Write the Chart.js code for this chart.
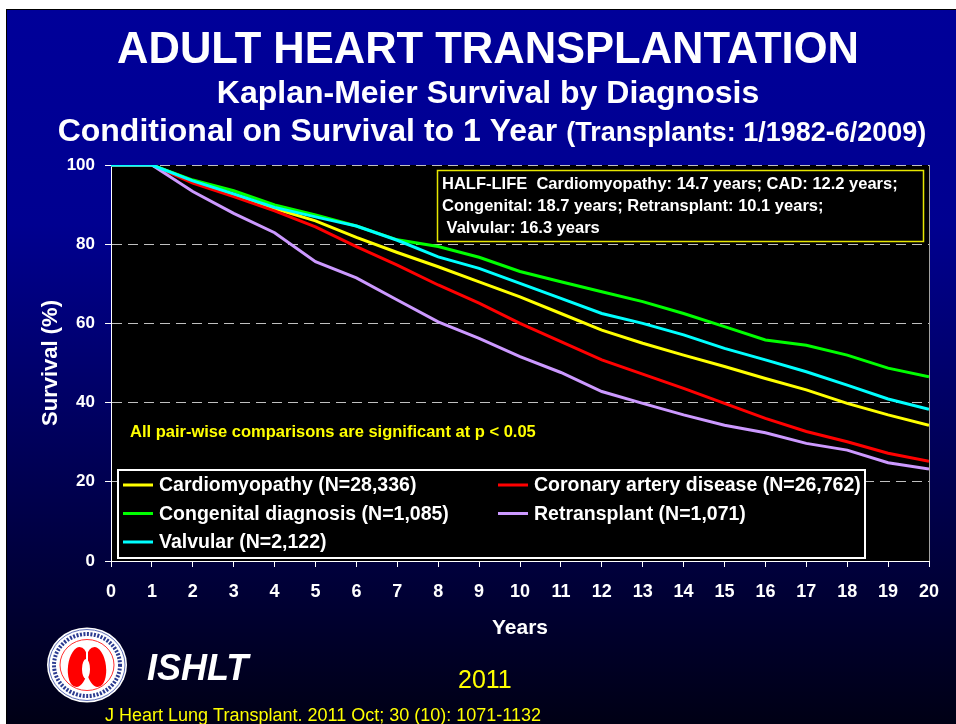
<!DOCTYPE html>
<html>
<head>
<meta charset="utf-8">
<title>Adult Heart Transplantation - Kaplan-Meier Survival by Diagnosis</title>
<script src="https://cdn.jsdelivr.net/npm/chart.js@4.4.1/dist/chart.umd.min.js"></script>
<style>
  html, body { margin: 0; padding: 0; background: #fff; }
  canvas { display: block; }
</style>
</head>
<body>
<canvas id="survival-chart" width="956" height="724"></canvas>
<script>
// values (survival %, conditional on 1 year)
var years = [0, 1, 2, 3, 4, 5, 6, 7, 8, 9, 10, 11, 12, 13, 14, 15, 16, 17, 18, 19, 20];
var cardiomyopathy = [100, 100, 96.0, 92.4, 89.0, 85.9, 81.7, 77.9, 74.3, 70.5, 66.7, 62.5, 58.3, 55.0, 52.0, 49.1, 46.1, 43.2, 39.8, 36.9, 34.3];
var coronary = [100, 100, 95.4, 92.0, 88.4, 84.4, 79.4, 74.7, 69.7, 65.1, 60.0, 55.4, 50.8, 47.2, 43.6, 39.8, 36.0, 32.7, 30.1, 27.2, 25.2];
var congenital = [100, 100, 96.2, 93.5, 89.9, 87.4, 84.6, 81.1, 79.4, 76.7, 73.1, 70.5, 68.0, 65.5, 62.5, 59.2, 55.8, 54.5, 52.0, 48.7, 46.5];
var retransplant = [100, 100, 93.3, 87.8, 82.9, 75.6, 71.5, 65.9, 60.4, 56.2, 51.6, 47.6, 42.8, 39.8, 36.9, 34.3, 32.4, 29.7, 28.0, 24.8, 23.2];
var valvular = [100, 100, 96.0, 92.7, 89.3, 86.9, 84.6, 81.0, 76.8, 73.9, 70.1, 66.3, 62.5, 60.0, 57.1, 53.7, 50.8, 47.8, 44.4, 40.9, 38.3];

var seriesNames = ['Cardiomyopathy (N=28,336)', 'Coronary artery disease (N=26,762)', 'Congenital diagnosis (N=1,085)', 'Retransplant (N=1,071)', 'Valvular (N=2,122)'];
var seriesColors = ['#ffff00', '#ff0000', '#00ff00', '#cc99ff', '#00ffff'];
var yTicks = [0, 20, 40, 60, 80, 100];

var halfLife = [
  'HALF-LIFE  Cardiomyopathy: 14.7 years; CAD: 12.2 years;',
  'Congenital: 18.7 years; Retransplant: 10.1 years;',
  ' Valvular: 16.3 years'
];

var FONT = 'Arial, "Liberation Sans", sans-serif';

function points(values) {
  return years.map(function (yr, i) { return { x: yr, y: values[i] }; });
}

function drawLogo(ctx, cx, cy) {
  ctx.save();
  ctx.fillStyle = '#fff';
  ctx.beginPath(); ctx.ellipse(cx, cy, 40, 37.5, 0, 0, Math.PI * 2); ctx.fill();
  ctx.strokeStyle = '#6070b8';
  ctx.lineWidth = 1;
  ctx.beginPath(); ctx.ellipse(cx, cy, 38, 35.5, 0, 0, Math.PI * 2); ctx.stroke();
  // the ring of small lettering
  ctx.strokeStyle = '#2a3a90';
  ctx.lineWidth = 4;
  ctx.setLineDash([2, 1.5]);
  ctx.beginPath(); ctx.ellipse(cx, cy, 33, 31, 0, 0, Math.PI * 2); ctx.stroke();
  ctx.setLineDash([]);
  ctx.strokeStyle = '#ff3030';
  ctx.lineWidth = 1;
  ctx.beginPath(); ctx.ellipse(cx, cy, 27, 25.5, 0, 0, Math.PI * 2); ctx.stroke();
  // lungs
  ctx.fillStyle = '#ff0000';
  ctx.beginPath(); ctx.ellipse(cx - 9, cy + 2, 10, 20, 0.12, 0, Math.PI * 2); ctx.fill();
  ctx.beginPath(); ctx.ellipse(cx + 9, cy + 2, 10, 20, -0.12, 0, Math.PI * 2); ctx.fill();
  ctx.fillStyle = '#fff';
  ctx.beginPath(); ctx.ellipse(cx - 1, cy + 4, 4, 10, 0, 0, Math.PI * 2); ctx.fill();
  ctx.fillRect(cx - 1, cy - 18, 2, 14);
  ctx.restore();
}

var slidePlugin = {
  id: 'slide',
  beforeDraw: function (chart) {
    var ctx = chart.ctx, a = chart.chartArea;
    ctx.save();
    ctx.fillStyle = '#fff';
    ctx.fillRect(0, 0, chart.width, chart.height);
    ctx.fillStyle = '#000';
    ctx.fillRect(6, 9, chart.width - 6, chart.height - 9);
    var g = ctx.createLinearGradient(0, 10, 0, chart.height);
    g.addColorStop(0, '#000099');
    g.addColorStop(0.3, '#000090');
    g.addColorStop(1, '#000015');
    ctx.fillStyle = g;
    ctx.fillRect(7, 10, chart.width - 7, chart.height - 10);
    ctx.fillStyle = '#000';
    ctx.fillRect(a.left, a.top, a.right - a.left, a.bottom - a.top);
    ctx.strokeStyle = '#a0a0a0';
    ctx.lineWidth = 1;
    ctx.beginPath();
    ctx.moveTo(a.right + 0.5, a.top);
    ctx.lineTo(a.right + 0.5, a.bottom);
    ctx.stroke();
    ctx.restore();
  },
  afterDatasetsDraw: function (chart) {
    var ctx = chart.ctx;
    ctx.save();

    // half-life box
    ctx.fillStyle = '#000';
    ctx.fillRect(437, 170, 487, 72);
    ctx.strokeStyle = '#e6e600';
    ctx.lineWidth = 1.5;
    ctx.strokeRect(437.5, 170.5, 486, 71);
    ctx.fillStyle = '#fff';
    ctx.font = 'bold 16.5px ' + FONT;
    ctx.textBaseline = 'middle';
    ctx.textAlign = 'left';
    halfLife.forEach(function (line, i) {
      ctx.fillText(line, 442, 184 + i * 22);
    });

    // significance note
    ctx.fillStyle = '#ffff00';
    ctx.font = 'bold 16.5px ' + FONT;
    ctx.fillText('All pair-wise comparisons are significant at p < 0.05', 130, 432);

    // legend
    ctx.fillStyle = '#000';
    ctx.fillRect(117, 469, 749, 90);
    ctx.strokeStyle = '#fff';
    ctx.lineWidth = 2;
    ctx.strokeRect(118, 470, 747, 88);
    ctx.font = 'bold 19.5px ' + FONT;
    chart.data.datasets.forEach(function (ds, i) {
      var col = i % 2, row = Math.floor(i / 2);
      var x = col === 0 ? 123 : 498;
      var y = 485 + row * 28.5;
      ctx.strokeStyle = ds.borderColor;
      ctx.lineWidth = 3;
      ctx.beginPath();
      ctx.moveTo(x, y);
      ctx.lineTo(x + 30, y);
      ctx.stroke();
      ctx.fillStyle = '#fff';
      ctx.fillText(ds.label, x + 36, y + 1);
    });
    ctx.restore();
  },
  afterDraw: function (chart) {
    var ctx = chart.ctx;
    ctx.save();
    ctx.fillStyle = '#fff';
    ctx.textBaseline = 'alphabetic';
    ctx.textAlign = 'center';
    ctx.font = 'bold 43.5px ' + FONT;
    ctx.fillText('ADULT HEART TRANSPLANTATION', 488, 63);
    ctx.font = 'bold 32px ' + FONT;
    ctx.fillText('Kaplan-Meier Survival by Diagnosis', 488, 103);

    // third title line mixes two sizes
    var partA = 'Conditional on Survival to 1 Year ';
    var partB = '(Transplants: 1/1982-6/2009)';
    ctx.textAlign = 'left';
    ctx.font = 'bold 32px ' + FONT;
    var wA = ctx.measureText(partA).width;
    ctx.font = 'bold 27px ' + FONT;
    var wB = ctx.measureText(partB).width;
    var x0 = 492 - (wA + wB) / 2;
    ctx.font = 'bold 32px ' + FONT;
    ctx.fillText(partA, x0, 141);
    ctx.font = 'bold 27px ' + FONT;
    ctx.fillText(partB, x0 + wA, 141);

    // footer
    drawLogo(ctx, 87, 665);
    ctx.fillStyle = '#fff';
    ctx.font = 'italic bold 36px ' + FONT;
    ctx.fillText('ISHLT', 147, 680);
    ctx.fillStyle = '#ffff00';
    ctx.font = '25px ' + FONT;
    ctx.fillText('2011', 458, 688);
    ctx.font = '18px ' + FONT;
    ctx.fillText('J Heart Lung Transplant. 2011 Oct; 30 (10): 1071-1132', 105, 721);
    ctx.restore();
  }
};

var datasets = [cardiomyopathy, coronary, congenital, retransplant, valvular].map(function (values, i) {
  return {
    label: seriesNames[i],
    data: points(values),
    borderColor: seriesColors[i],
    backgroundColor: seriesColors[i],
    borderWidth: 3,
    pointRadius: 0,
    tension: 0,
    fill: false,
    order: 5 - i
  };
});

var ctx = document.getElementById('survival-chart').getContext('2d');
var survivalChart = new Chart(ctx, {
  type: 'line',
  data: { datasets: datasets },
  options: {
    responsive: false,
    animation: false,
    events: [],
    layout: { padding: { left: 38, top: 165, right: 27, bottom: 83 } },
    plugins: {
      legend: { display: false },
      tooltip: { enabled: false }
    },
    scales: {
      x: {
        type: 'linear',
        min: 0,
        max: 20,
        afterFit: function (scale) { scale.height = 80; },
        ticks: { stepSize: 1, color: '#fff', font: { family: FONT, size: 18, weight: 'bold' }, padding: 14 },
        grid: { drawOnChartArea: false, color: '#fff', tickColor: '#fff', tickLength: 6 },
        border: { color: '#fff', width: 1 },
        title: { display: true, text: 'Years', color: '#fff', font: { family: FONT, size: 21, weight: 'bold' }, padding: 0 }
      },
      y: {
        min: 0,
        max: 100,
        afterFit: function (scale) { scale.width = 73; },
        afterBuildTicks: function (scale) { scale.ticks = yTicks.map(function (v) { return { value: v }; }); },
        ticks: { color: '#fff', font: { family: FONT, size: 17, weight: 'bold' }, padding: 10 },
        grid: { color: '#c0c0c0', tickColor: '#fff', tickLength: 6, tickBorderDash: [] },
        border: { color: '#fff', width: 1, dash: [10, 6] },
        title: { display: true, text: 'Survival (%)', color: '#fff', font: { family: FONT, size: 22, weight: 'bold' }, padding: 0 }
      }
    }
  },
  plugins: [slidePlugin]
});
</script>
</body>
</html>
